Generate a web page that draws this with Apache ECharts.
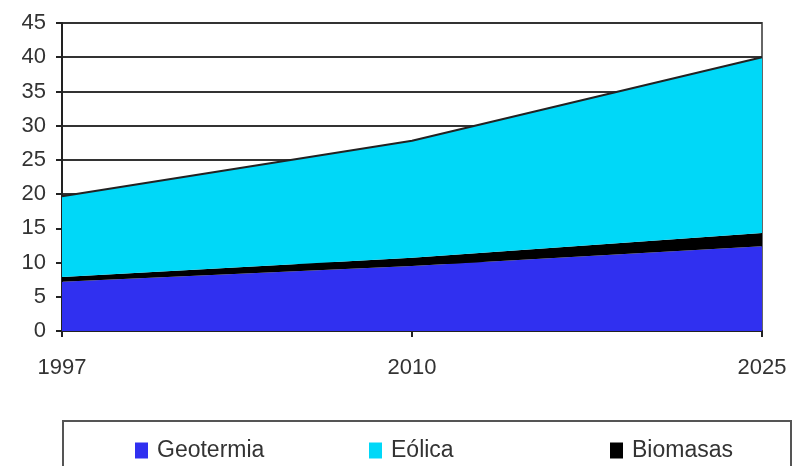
<!DOCTYPE html>
<html>
<head>
<meta charset="utf-8">
<style>
  html, body { margin: 0; padding: 0; background: #fff; }
  #chart { width: 798px; height: 466px; }
</style>
<script src="https://cdn.jsdelivr.net/npm/echarts@6/dist/echarts.min.js"></script>
</head>
<body>
<div id="chart"></div>
<script>
// Years on the horizontal axis
const years = ['1997', '2010', '2025'];
// Stacked contributions, bottom to top
const geotermia = [7.2, 9.5, 12.4];
const biomasas = [0.7, 1.2, 1.9];
const eolica = [11.8, 17.1, 25.7];
// Value axis range
const yMin = 0, yMax = 45, yStep = 5;

const fontFamily = 'Liberation Sans, Arial, sans-serif';
const labelFont = { fontFamily: fontFamily, fontSize: 22, color: '#333' };

const chart = echarts.init(document.getElementById('chart'), null, { renderer: 'canvas' });

function legendAt(name, left, color) {
  return {
    data: [{ name: name, itemStyle: { color: color } }],
    left: left, top: 434,
    itemWidth: 13, itemHeight: 16, itemGap: 0,
    icon: 'rect',
    textStyle: { fontFamily: fontFamily, fontSize: 23, color: '#333', padding: [0, 0, 0, 4] },
    selectedMode: false
  };
}

chart.setOption({
  animation: false,
  backgroundColor: '#fff',
  grid: {
    left: 62, right: 36, top: 23, bottom: 135,
    show: true, borderColor: '#666', borderWidth: 2, backgroundColor: 'transparent'
  },
  graphic: [{
    type: 'rect', silent: true,
    shape: { x: 63, y: 421, width: 728, height: 60 },
    style: { fill: '#fff', stroke: '#555', lineWidth: 2 },
    z: -1
  }],
  legend: [
    legendAt('Geotermia', 130, '#3030f0'),
    legendAt('Eólica', 364, '#00d8f8'),
    legendAt('Biomasas', 605, '#000')
  ],
  xAxis: {
    type: 'category', data: years, boundaryGap: false,
    axisLine: { lineStyle: { color: '#222', width: 2 } },
    axisTick: { show: true, length: 6, lineStyle: { color: '#222', width: 2 } },
    axisLabel: Object.assign({ margin: 26 }, labelFont),
    splitLine: { show: false }
  },
  yAxis: {
    type: 'value', min: yMin, max: yMax, interval: yStep,
    axisLine: { show: true, lineStyle: { color: '#222', width: 2 } },
    axisTick: { show: true, length: 6, lineStyle: { color: '#222', width: 2 } },
    axisLabel: Object.assign({ margin: 16 }, labelFont),
    splitLine: { show: true, lineStyle: { color: '#333', width: 2 } }
  },
  series: [
    {
      name: 'Geotermia', type: 'line', stack: 'total', data: geotermia,
      symbol: 'none', lineStyle: { width: 0 },
      itemStyle: { color: '#3030f0' },
      areaStyle: { color: '#3030f0', opacity: 1 }, z: 3
    },
    {
      name: 'Biomasas', type: 'line', stack: 'total', data: biomasas,
      symbol: 'none', lineStyle: { width: 0 },
      itemStyle: { color: '#000' },
      areaStyle: { color: '#000', opacity: 1 }, z: 3
    },
    {
      name: 'Eólica', type: 'line', stack: 'total', data: eolica,
      symbol: 'none', lineStyle: { width: 2, color: '#222' },
      itemStyle: { color: '#00d8f8' },
      areaStyle: { color: '#00d8f8', opacity: 1 }, z: 3
    }
  ]
});
</script>
</body>
</html>
